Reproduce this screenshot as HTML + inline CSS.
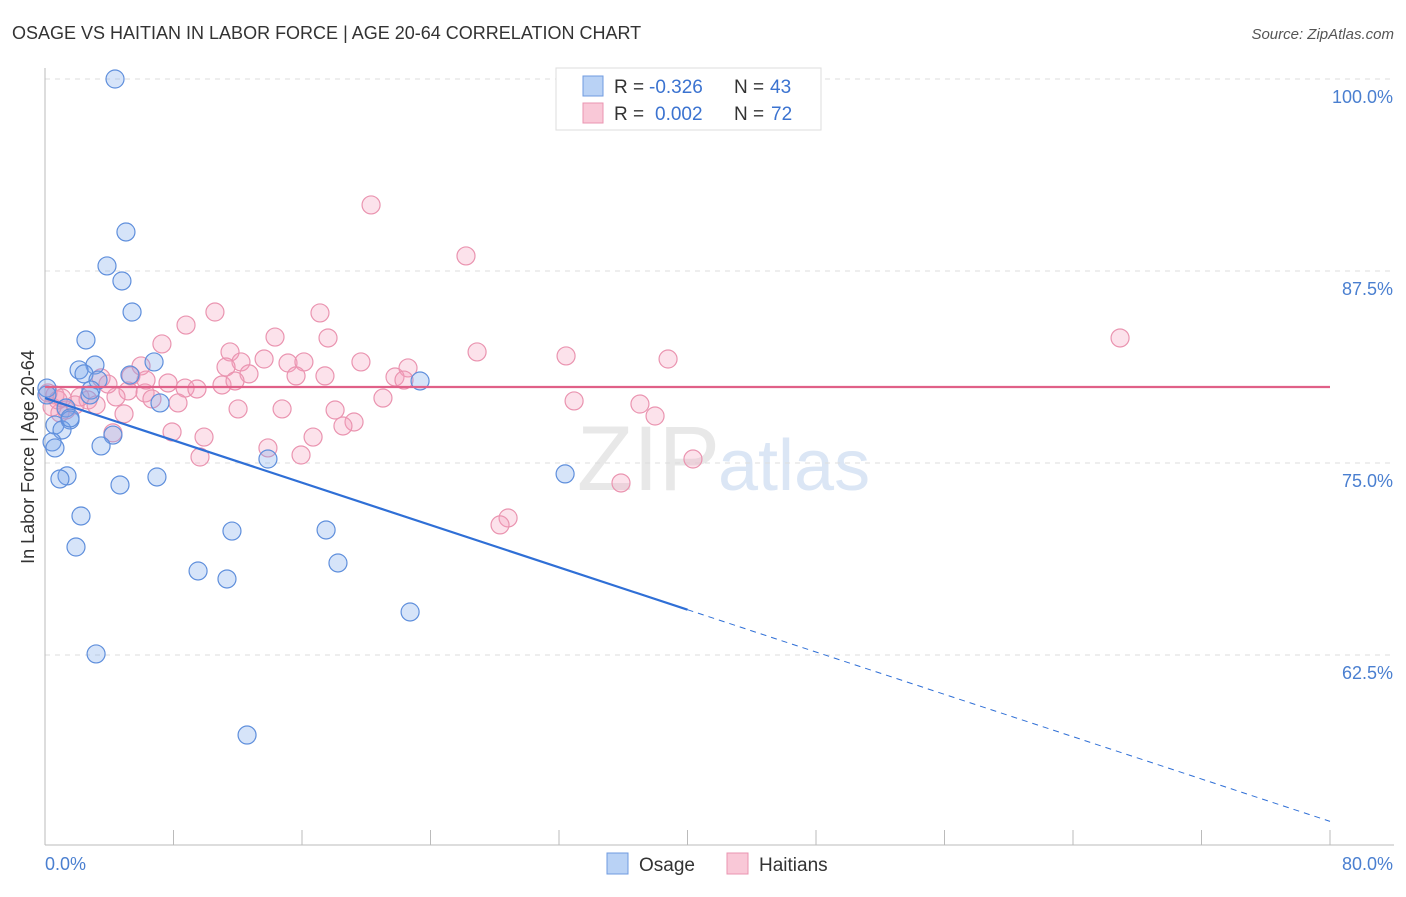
<!DOCTYPE html>
<html><head><meta charset="utf-8"><style>
body{margin:0;background:#fff;font-family:"Liberation Sans",sans-serif;}
svg text{font-family:"Liberation Sans",sans-serif;}
</style></head><body>
<svg id="c" width="1406" height="892">
<text x="12" y="39" font-size="18" fill="#333">OSAGE VS HAITIAN IN LABOR FORCE | AGE 20-64 CORRELATION CHART</text>
<text x="1394" y="39" font-size="15" fill="#555" font-style="italic" text-anchor="end">Source: ZipAtlas.com</text>
<text x="720" y="490" font-size="92" fill="#e8e8e8" text-anchor="end" font-family="Liberation Serif">ZIP</text>
<text x="718" y="490" font-size="72" fill="#dbe6f5">atlas</text>
<g id="grid"></g><g id="axes"></g><g id="pts"></g><g id="lines"></g>
<text transform="translate(34,457) rotate(-90)" font-size="18" fill="#333" text-anchor="middle">In Labor Force | Age 20-64</text>
<text x="45" y="870" font-size="18" fill="#4a7fd0">0.0%</text>
<text x="1393" y="870" font-size="18" fill="#4a7fd0" text-anchor="end">80.0%</text>
<g>
<rect x="556" y="68" width="265" height="62" fill="#fff" stroke="#ddd"/>
<rect x="583" y="76" width="20" height="20" fill="#b9d2f5" stroke="#6f9be0"/>
<rect x="583" y="103" width="20" height="20" fill="#f9c8d7" stroke="#ea94b0"/>
<text x="614" y="93" font-size="19" fill="#333">R =</text>
<text x="649" y="93" font-size="19" fill="#3b73d0">-0.326</text>
<text x="734" y="93" font-size="19" fill="#333">N =</text>
<text x="770" y="93" font-size="19" fill="#3b73d0">43</text>
<text x="614" y="120" font-size="19" fill="#333">R =</text>
<text x="655" y="120" font-size="19" fill="#3b73d0">0.002</text>
<text x="734" y="120" font-size="19" fill="#333">N =</text>
<text x="771" y="120" font-size="19" fill="#3b73d0">72</text>
</g>
<g>
<rect x="607" y="853" width="21" height="21" fill="#b9d2f5" stroke="#6f9be0"/>
<text x="639" y="871" font-size="19" fill="#333">Osage</text>
<rect x="727" y="853" width="21" height="21" fill="#f9c8d7" stroke="#ea94b0"/>
<text x="759" y="871" font-size="19" fill="#333">Haitians</text>
</g>
</svg>
<script>
const blueX=[4.36,5.04,3.86,4.79,5.42,2.55,6.79,3.11,2.12,2.43,3.30,5.29,23.35,2.86,0.12,7.16,1.31,0.62,1.56,1.06,4.23,3.49,0.44,0.62,13.88,32.38,1.37,0.93,4.67,6.97,2.24,11.64,17.50,1.93,9.53,11.33,18.24,22.73,3.18,12.58,0.12,1.56,2.80];
const blueY=[100,90.04,87.83,86.85,84.83,83.01,81.58,81.38,81.06,80.80,80.40,80.73,80.34,79.75,79.88,78.91,78.58,77.47,77.80,77.15,76.82,76.11,76.37,75.98,75.26,74.29,74.16,73.96,73.57,74.09,71.55,70.57,70.64,69.53,67.97,67.45,68.49,65.30,62.57,57.29,79.43,77.93,79.43];
const pinkX=[20.30,26.21,66.93,10.58,8.78,17.12,14.32,17.62,7.28,11.52,26.90,32.44,38.79,13.64,12.20,15.13,16.12,19.67,22.60,5.98,11.27,12.70,21.79,15.63,17.43,5.35,3.49,7.66,11.02,8.72,9.46,22.35,5.17,6.23,6.66,21.04,32.94,37.04,8.28,2.68,2.18,4.42,3.18,1.31,0.44,0.93,4.92,12.02,14.76,18.06,37.98,19.24,18.55,7.91,4.23,9.90,16.69,13.88,15.94,9.65,40.34,35.86,28.83,28.33,0.62,0.19,0.81,1.87,1.06,3.92,6.29,11.83];
const pinkY=[91.80,88.48,83.14,84.83,83.98,84.77,83.20,83.14,82.75,82.23,82.23,81.97,81.77,81.77,81.58,81.51,81.58,81.58,81.19,81.32,81.25,80.80,80.60,80.67,80.67,80.67,80.54,80.21,80.08,79.88,79.82,80.40,79.69,79.56,79.17,79.23,79.04,78.84,78.91,79.10,79.30,79.30,78.78,78.45,78.65,78.26,78.20,78.52,78.52,78.45,78.06,77.67,77.41,77.02,76.96,76.69,76.69,75.98,75.52,75.39,75.26,73.70,71.42,70.97,79.43,79.56,79.10,78.78,79.23,80.14,80.40,80.34];
const yTicks=[100,87.5,75,62.5];
const yTickLabels=["100.0%","87.5%","75.0%","62.5%"];
const xTicks=[0,8,16,24,32,40,48,56,64,72,80];
const blueTrend=[79.23,-0.3445];
const pinkTrend=[79.95,0];
const NS='http://www.w3.org/2000/svg';
const sx=v=>45+v/80*1285;
const sy=v=>79+(100-v)/12.5*192;
function mk(t,a,p){const e=document.createElementNS(NS,t);for(const k in a)e.setAttribute(k,a[k]);document.getElementById(p).appendChild(e);return e;}
yTicks.forEach((t,i)=>{
 const l=mk('line',{x1:45,x2:1394,y1:sy(t),y2:sy(t),stroke:'#ddd','stroke-dasharray':'5,5'},'grid');
 
 
 const tx=mk('text',{x:1393,y:sy(t)+24,'font-size':18,fill:'#4a7fd0','text-anchor':'end'},'grid');
 tx.textContent=yTickLabels[i];
 
 
});
const ax=mk('line',{x1:45,x2:45,y1:68,y2:845,stroke:'#bbb'},'axes');


const bx=mk('line',{x1:45,x2:1394,y1:845,y2:845,stroke:'#bbb'},'axes');


xTicks.forEach(t=>{
 const l=mk('line',{x1:sx(t),x2:sx(t),y1:830,y2:845,stroke:'#bbb'},'axes');
 
 
});
pinkX.forEach((x,i)=>{
 const c=mk('circle',{cx:sx(x),cy:sy(pinkY[i]),r:9,fill:'rgba(244,160,190,0.3)',stroke:'#ea94b0','stroke-width':1.2},'pts');
 
 
});
blueX.forEach((x,i)=>{
 const c=mk('circle',{cx:sx(x),cy:sy(blueY[i]),r:9,fill:'rgba(120,165,235,0.3)',stroke:'#5f8fdc','stroke-width':1.2},'pts');
 
 
});
const bt=v=>blueTrend[0]+blueTrend[1]*v;
const l1=mk('line',{x1:sx(0),y1:sy(bt(0)),x2:sx(40),y2:sy(bt(40)),stroke:'#2f6fd6','stroke-width':2.2},'lines');


const l2=mk('line',{x1:sx(40),y1:sy(bt(40)),x2:sx(80),y2:sy(bt(80)),stroke:'#2f6fd6','stroke-width':1,'stroke-dasharray':'6,5'},'lines');


const l3=mk('line',{x1:sx(0),y1:sy(pinkTrend[0]),x2:sx(80),y2:sy(pinkTrend[0]+pinkTrend[1]*80),stroke:'#e06088','stroke-width':2.2},'lines');


</script>
</body></html>
